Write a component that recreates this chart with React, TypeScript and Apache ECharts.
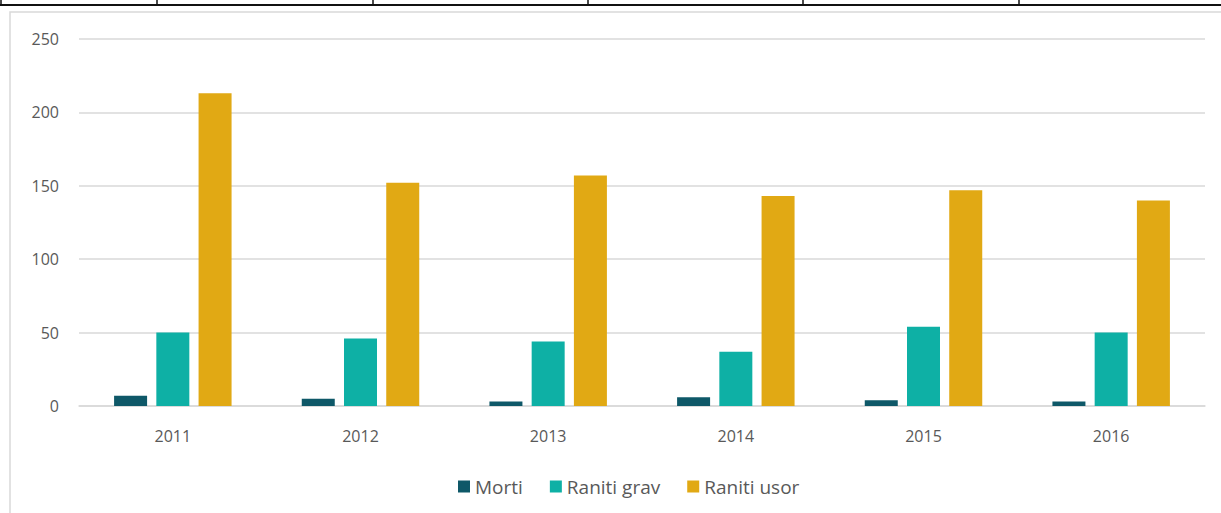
import React, { useEffect, useRef } from "react";
import * as echarts from "echarts";

const categories = ["2011", "2012", "2013", "2014", "2015", "2016"];
const morti = [7, 5, 3, 6, 4, 3];
const ranitiGrav = [50, 46, 44, 37, 54, 50];
const ranitiUsor = [213, 152, 157, 143, 147, 140];
const seriesNames = ["Morti", "Raniti grav", "Raniti usor"];
const yTicks = { min: 0, max: 250, interval: 50 };

export default function App() {
  const ref = useRef<HTMLDivElement>(null);
  useEffect(() => {
    if (!ref.current) return;
    const chart = echarts.init(ref.current, null, { renderer: "svg" });
    const font = "'Open Sans', 'Noto Sans', sans-serif";
    const tableX = [157, 373, 588, 803, 1019];
    chart.setOption({
      animation: false,
      backgroundColor: "#ffffff",
      textStyle: { fontFamily: font },
      grid: { left: 79, right: 16, top: 39, bottom: 107, containLabel: false },
      legend: {
        data: seriesNames,
        top: 472,
        left: 453,
        itemWidth: 12,
        itemHeight: 12,
        itemGap: 27,
        icon: "rect",
        textStyle: { color: "#595959", fontSize: 19, fontFamily: font },
      },
      xAxis: {
        type: "category",
        data: categories,
        axisLine: { lineStyle: { color: "#d9d9d9", width: 1.5 } },
        axisTick: { show: false },
        axisLabel: { color: "#595959", fontSize: 16, margin: 22 },
      },
      yAxis: {
        type: "value",
        min: yTicks.min,
        max: yTicks.max,
        interval: yTicks.interval,
        axisLine: { show: false },
        axisTick: { show: false },
        axisLabel: { color: "#595959", fontSize: 16, margin: 20 },
        splitLine: { lineStyle: { color: "#d9d9d9", width: 1.5 } },
      },
      series: [
        { name: seriesNames[0], type: "bar", data: morti, barWidth: 33, barGap: "28%", itemStyle: { color: "#0e5868" } },
        { name: seriesNames[1], type: "bar", data: ranitiGrav, barWidth: 33, barGap: "28%", itemStyle: { color: "#0eb0a5" } },
        { name: seriesNames[2], type: "bar", data: ranitiUsor, barWidth: 33, barGap: "28%", itemStyle: { color: "#e1a914" } },
      ],
      graphic: [
        { type: "rect", shape: { x: 10, y: 12, width: 1220, height: 520 }, style: { fill: "none", stroke: "#d9d9d9", lineWidth: 1.5 }, silent: true },
        { type: "line", shape: { x1: 0, y1: 5, x2: 1221, y2: 5 }, style: { stroke: "#111111", lineWidth: 2 } },
        { type: "line", shape: { x1: 1, y1: 0, x2: 1, y2: 5 }, style: { stroke: "#111111", lineWidth: 1.5 } },
        ...tableX.map((x) => ({ type: "line", shape: { x1: x, y1: 0, x2: x, y2: 5 }, style: { stroke: "#111111", lineWidth: 1.5 } })),
      ],
    });
    return () => chart.dispose();
  }, []);
  return <div ref={ref} style={{ position: "absolute", left: 0, top: 0, width: 1221, height: 513 }} />;
}
